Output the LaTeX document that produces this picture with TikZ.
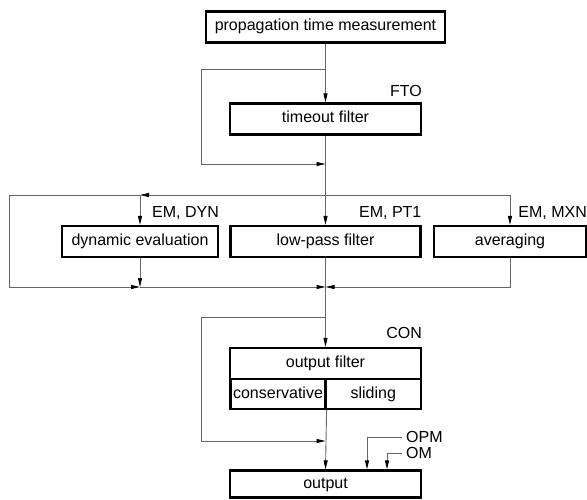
\documentclass[tikz,border=0pt]{standalone}
\usepackage{fontspec}
\setmainfont{Liberation Sans}
\usetikzlibrary{arrows.meta}
\tikzset{>={Triangle[length=9pt,width=4pt,color=black]}}
\tikzset{
  block/.style={draw, line width=2.2pt, minimum height=31pt, inner sep=1pt,
    text height=11.5pt, text depth=3.5pt},
  flow/.style={draw=black!60, line width=0.9pt},
  tag/.style={anchor=base east, inner sep=0pt},
}

\begin{document}
\begin{tikzpicture}[x=1pt, y=-1pt, font=\fontsize{16}{19}\selectfont]
  \useasboundingbox (0,0) rectangle (587,500);
  % boxes
  \node[block, minimum width=239pt] (ptm) at (325.5,27) {propagation time measurement};
  \node[block, minimum width=191pt] (tof) at (325.5,119) {timeout filter};
  \node[block, minimum width=156pt] (dyn) at (140,241.5) {dynamic evaluation};
  \node[block, minimum width=190pt] (lpf) at (325.5,241.5) {low-pass filter};
  \node[block, minimum width=152pt] (avg) at (510,241.5) {averaging};
  \node[block, minimum width=191pt] (ofl) at (325.5,363.5) {output filter};
  \node[block, minimum width=95pt, minimum height=30pt] (cons) at (278,394) {conservative};
  \node[block, minimum width=95.5pt, minimum height=30pt] (slid) at (373.25,394) {sliding};
  \node[block, minimum width=191pt, minimum height=27pt] (out) at (325.5,484) {output};
  % labels
  \node[tag] (fto) at ([yshift=6pt]tof.north east) {FTO};
  \node[tag] (emdyn) at ([yshift=7pt]dyn.north east) {EM, DYN};
  \node[tag] (empt) at ([yshift=7pt]lpf.north east) {EM, PT1};
  \node[tag] (emmxn) at ([yshift=7pt]avg.north east) {EM, MXN};
  \node[tag] (con) at ([yshift=8pt]ofl.north east) {CON};
  % junctions
  \coordinate (s1) at (325.5,69);
  \coordinate (s1w) at (201,69);
  \coordinate (j1w) at (201,164);
  \coordinate (j1) at (325.5,164);
  \coordinate (j2) at (325.5,195);
  \coordinate (j2l) at (140,195);
  \coordinate (j2ll) at (9,195);
  \coordinate (j2r) at (510,195);
  \coordinate (j3) at (325.5,287);
  \coordinate (j3l) at (140,287);
  \coordinate (j3ll) at (9,287);
  \coordinate (s4) at (325.5,317);
  \coordinate (s4w) at (201,317);
  \coordinate (j4w) at (201,441);
  \coordinate (j4) at (325.5,441);
  \coordinate (opm) at (402,437);
  \coordinate (om) at (402,453);
  \node[anchor=west, inner sep=4pt] (opmtxt) at (opm) {OPM};
  \node[anchor=west, inner sep=4pt] (omtxt) at (om) {OM};
  % lines
  \draw[flow,->] (ptm) -- (tof);
  \draw[flow,->] (s1) -- (s1w) -- (j1w) -- (j1);
  \draw[flow,->] (tof) -- (lpf);
  \draw[flow,->] (j2) -- (j2l);
  \draw[flow] (j2l) -- (j2ll) -- (j3ll);
  \draw[flow,->] (j3ll) -- (j3l);
  \draw[flow,->] (j2l) -- (dyn);
  \draw[flow,->] (j2) -- (j2r) -- (avg);
  \draw[flow,->] (dyn) -- (j3l);
  \draw[flow,->] (j3l) -- (j3);
  \draw[flow,->] (avg) |- (j3);
  \draw[flow,->] (lpf) -- (ofl);
  \draw[flow,->] (s4) -- (s4w) -- (j4w) -- (j4);
  \draw[flow,->] (cons.south east) -- (out.north);
  \draw[flow,->] (opm) -| ([xshift=41.5pt]out.north);
  \draw[flow,->] (om) -| ([xshift=61.5pt]out.north);
\end{tikzpicture}
\end{document}
